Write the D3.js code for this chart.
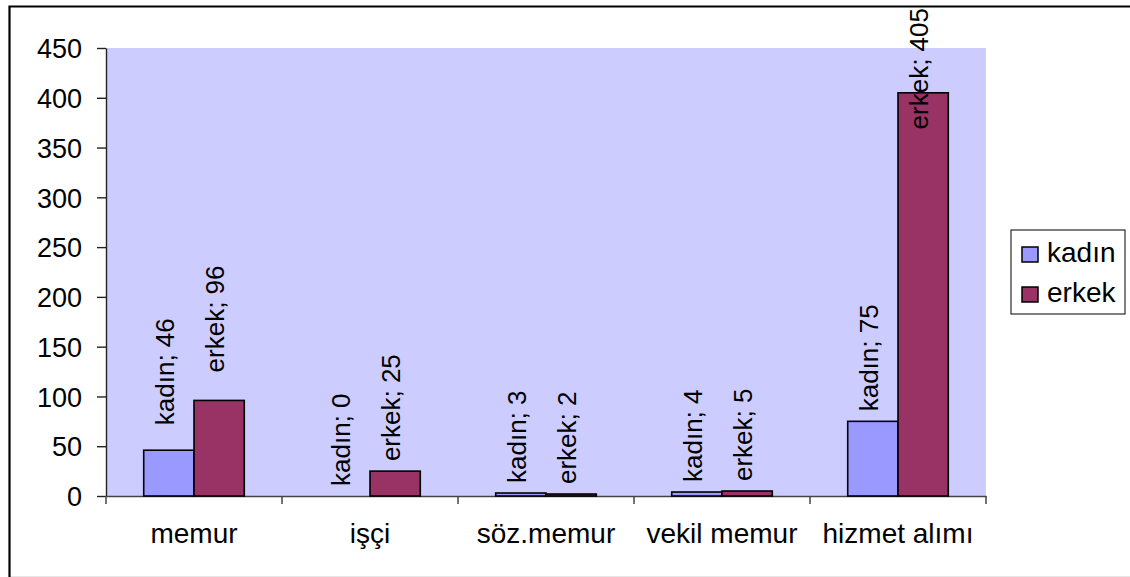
<!DOCTYPE html>
<html>
<head>
<meta charset="utf-8">
<script src="https://cdn.jsdelivr.net/npm/d3@7"></script>
<style>
  html, body { margin: 0; padding: 0; background: #fff; }
  svg { display: block; font-family: "Liberation Sans", Arial, sans-serif; }
</style>
</head>
<body>
<svg id="chart" width="1130" height="577"></svg>
<script>
// ---- data ----
const categories = ["memur", "işçi", "söz.memur", "vekil memur", "hizmet alımı"];
const seriesNames = ["kadın", "erkek"];
const kadinValues = [46, 0, 3, 4, 75];
const erkekValues = [96, 25, 2, 5, 405];
const yTickValues = [0, 50, 100, 150, 200, 250, 300, 350, 400, 450];

const seriesValues = [kadinValues, erkekValues];
const colors = { "kadın": "#9999FF", "erkek": "#993366" };

// ---- layout ----
const svg = d3.select("#chart");
const W = 1130, H = 577;
const plot = { left: 106, right: 986, top: 48, bottom: 496 };

// outer frame
svg.append("line").attr("x1", 10).attr("x2", W).attr("y1", 576.5).attr("y2", 576.5)
  .attr("stroke", "#e6e6e6").attr("stroke-width", 1);
svg.append("path").attr("d", `M9.5,${H} V6.5 H${W}`)
  .attr("fill", "none").attr("stroke", "#000").attr("stroke-width", 2.2);

// scales
const x = d3.scaleBand().domain(categories).range([plot.left, plot.right]).paddingInner(0).paddingOuter(0);
const step = x.step();
const gapRatio = 1.5;
const barW = step / (seriesNames.length + gapRatio);
const xSub = d3.scaleBand().domain(seriesNames)
  .range([barW * gapRatio / 2, barW * gapRatio / 2 + barW * seriesNames.length]);
const y = d3.scaleLinear().domain([0, 450]).range([plot.bottom, plot.top]);

// plot background
svg.append("rect")
  .attr("x", plot.left).attr("y", plot.top)
  .attr("width", plot.right - plot.left).attr("height", plot.bottom - plot.top)
  .attr("fill", "#CCCCFF");

// y axis
const yAxis = d3.axisLeft(y).tickValues(yTickValues).tickSize(9).tickPadding(15).tickSizeOuter(0);
const gy = svg.append("g").attr("transform", `translate(${plot.left},0)`).call(yAxis);
gy.select(".domain").attr("stroke", "#222").attr("stroke-width", 1.4);
gy.selectAll(".tick line").attr("stroke", "#222").attr("stroke-width", 1.4);
gy.selectAll(".tick text").attr("font-size", 27).attr("fill", "#000")
  .attr("font-family", "Liberation Sans, Arial, sans-serif").attr("dy", "0.36em");

// x axis (labels)
const xAxis = d3.axisBottom(x).tickSize(0).tickSizeOuter(0);
const gx = svg.append("g").attr("transform", `translate(0,${plot.bottom})`).call(xAxis);
gx.select(".domain").attr("stroke", "#444").attr("stroke-width", 1.5);
gx.selectAll(".tick text").attr("font-size", 28).attr("fill", "#000")
  .attr("font-family", "Liberation Sans, Arial, sans-serif")
  .attr("y", 47).attr("dy", null);

// x axis boundary ticks
const boundaries = categories.map(c => x(c)).concat([x(categories[categories.length - 1]) + step]);
svg.append("g").selectAll("line").data(boundaries).join("line")
  .attr("x1", d => d).attr("x2", d => d)
  .attr("y1", plot.bottom).attr("y2", plot.bottom + 8)
  .attr("stroke", "#444").attr("stroke-width", 1.5);

// bars
const barData = [];
categories.forEach((c, i) => {
  seriesNames.forEach((s, j) => {
    barData.push({ cat: c, series: s, value: seriesValues[j][i] });
  });
});

svg.append("g").selectAll("rect").data(barData).join("rect")
  .attr("x", d => x(d.cat) + xSub(d.series))
  .attr("y", d => y(d.value))
  .attr("width", xSub.bandwidth())
  .attr("height", d => y(0) - y(d.value))
  .attr("fill", d => colors[d.series])
  .attr("stroke", "#000").attr("stroke-width", 1.6);

// data labels
const labelOffset = 10;
const labelExtra = { "memur|kadın": 15, "memur|erkek": 18 };
const labels = svg.append("g").selectAll("text").data(barData).join("text")
  .attr("font-size", 26).attr("fill", "#000")
  .attr("text-anchor", "start").attr("dy", 5)
  .text(d => `${d.series}; ${d.value}`);
labels.each(function (d) {
  const len = this.getComputedTextLength();
  const cx = x(d.cat) + xSub(d.series) + xSub.bandwidth() / 2;
  let start = y(d.value) - labelOffset - (labelExtra[d.cat + "|" + d.series] || 0);
  start = Math.max(start, 8 + len);
  d3.select(this).attr("transform", `translate(${cx},${start}) rotate(-90)`);
});

// legend
const legend = svg.append("g");
legend.append("rect").attr("x", 1011).attr("y", 230).attr("width", 114).attr("height", 84)
  .attr("fill", "#fff").attr("stroke", "#000").attr("stroke-width", 1);
const items = legend.selectAll("g.item").data(seriesNames).join("g").attr("class", "item")
  .attr("transform", (d, i) => `translate(0,${i * 40})`);
items.append("rect").attr("x", 1022).attr("y", 247).attr("width", 16).attr("height", 15)
  .attr("fill", d => colors[d]).attr("stroke", "#000").attr("stroke-width", 1.5);
items.append("text").attr("x", 1047).attr("y", 262).attr("font-size", 28).attr("fill", "#000")
  .text(d => d);
</script>
</body>
</html>
